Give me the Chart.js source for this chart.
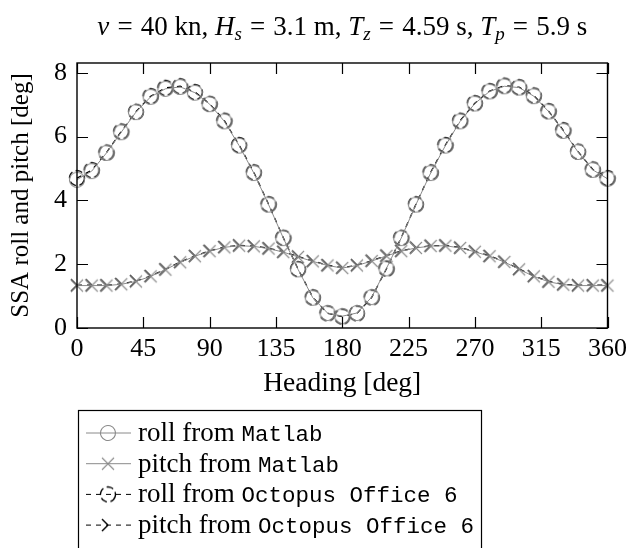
<!DOCTYPE html>
<html>
<head>
<meta charset="utf-8">
<script src="https://cdn.jsdelivr.net/npm/chart.js@4/dist/chart.umd.min.js"></script>
<style>
  html, body { margin: 0; padding: 0; background: #fff; }
  canvas { display: block; }
</style>
</head>
<body>
<canvas id="ssa-chart" width="633" height="548"></canvas>
<script>
// Headings every 10 degrees, 0..360
var headings = [0, 10, 20, 30, 40, 50, 60, 70, 80, 90, 100, 110, 120, 130, 140, 150, 160, 170, 180,
                190, 200, 210, 220, 230, 240, 250, 260, 270, 280, 290, 300, 310, 320, 330, 340, 350, 360];

// SSA roll / pitch [deg]
var rollMatlab = [4.65, 4.92, 5.49, 6.14, 6.77, 7.25, 7.50, 7.56, 7.38, 7.02, 6.48, 5.72, 4.86, 3.87, 2.82, 1.84, 0.95, 0.47, 0.37,
                  0.47, 0.97, 1.87, 2.82, 3.87, 4.86, 5.72, 6.48, 7.04, 7.42, 7.58, 7.54, 7.27, 6.79, 6.18, 5.52, 4.96, 4.68];
var pitchMatlab = [1.33, 1.33, 1.33, 1.37, 1.46, 1.62, 1.83, 2.06, 2.25, 2.41, 2.53, 2.58, 2.56, 2.49, 2.38, 2.23, 2.09, 1.96, 1.88,
                   1.96, 2.10, 2.26, 2.41, 2.51, 2.57, 2.58, 2.51, 2.39, 2.25, 2.07, 1.84, 1.62, 1.45, 1.36, 1.33, 1.33, 1.33];
var rollOctopus = [4.70, 4.95, 5.50, 6.16, 6.78, 7.27, 7.53, 7.58, 7.40, 7.03, 6.50, 5.74, 4.88, 3.88, 2.83, 1.85, 0.96, 0.46, 0.36,
                   0.46, 0.96, 1.86, 2.83, 3.88, 4.88, 5.74, 6.50, 7.05, 7.43, 7.60, 7.55, 7.29, 6.80, 6.20, 5.53, 4.97, 4.70];
var pitchOctopus = [1.34, 1.34, 1.34, 1.38, 1.47, 1.63, 1.84, 2.07, 2.26, 2.42, 2.54, 2.59, 2.57, 2.50, 2.39, 2.24, 2.10, 1.97, 1.89,
                    1.97, 2.11, 2.27, 2.42, 2.52, 2.58, 2.59, 2.52, 2.40, 2.26, 2.08, 1.85, 1.63, 1.46, 1.37, 1.34, 1.34, 1.34];

var xTicks = [0, 45, 90, 135, 180, 225, 270, 315, 360];
var yTicks = [0, 2, 4, 6, 8];

var legendQuantity = ['roll', 'pitch', 'roll', 'pitch'];
var legendSource = ['Matlab', 'Matlab', 'Octopus Office 6', 'Octopus Office 6'];

var SERIF = '"Liberation Serif", "Times New Roman", serif';
var MONO = '"Liberation Mono", "DejaVu Sans Mono", monospace';
var GREY = '#8a8a8a';

function pts(values) {
    return headings.map(function(h, i) { return { x: h, y: values[i] }; });
}

// small canvas sprites so the Octopus marks can be dashed like their lines
function makeMarker(shape, color, dashed) {
    var c = document.createElement('canvas');
    c.width = 20; c.height = 20;
    var g = c.getContext('2d');
    g.strokeStyle = color;
    g.lineWidth = dashed ? 1.4 : 1.1;
    if (shape === 'circle') {
        if (dashed) g.setLineDash([7, 3.5]);
        g.beginPath();
        g.arc(10, 10, 7.5, 0.3, 0.3 + Math.PI * 2);
        g.stroke();
    } else {
        var h = 6;
        if (dashed) g.setLineDash([h * 1.414, 30]);
        g.beginPath(); g.moveTo(10 - h, 10 - h); g.lineTo(10 + h, 10 + h); g.stroke();
        g.beginPath(); g.moveTo(10 - h, 10 + h); g.lineTo(10 + h, 10 - h); g.stroke();
    }
    return c;
}

function series(label, values, color, dash, width, marker) {
    return {
        label: label,
        data: pts(values),
        borderColor: color,
        borderWidth: width,
        borderDash: dash,
        backgroundColor: 'transparent',
        pointStyle: marker,
        pointRadius: 8,
        pointHoverRadius: 8,
        tension: 0,
        fill: false,
        clip: false
    };
}

var datasets = [
    series('roll from Matlab', rollMatlab, GREY, [], 1, makeMarker('circle', GREY, false)),
    series('pitch from Matlab', pitchMatlab, GREY, [], 1, makeMarker('x', GREY, false)),
    series('roll from Octopus Office 6', rollOctopus, '#000', [5, 5], 1.3, makeMarker('circle', '#000', true)),
    series('pitch from Octopus Office 6', pitchOctopus, '#000', [5, 5], 1.3, makeMarker('x', '#000', true))
];

// box around the plot with inward ticks on all four sides
var framePlugin = {
    id: 'frame',
    afterDatasetsDraw: function(chart) {
        var ctx = chart.ctx, a = chart.chartArea;
        var xs = chart.scales.x, ys = chart.scales.y;
        var len = 11;
        ctx.save();
        ctx.strokeStyle = '#000';
        ctx.lineWidth = 1.2;
        ctx.beginPath();
        xTicks.forEach(function(v) {
            var px = Math.round(xs.getPixelForValue(v)) + 0.5;
            ctx.moveTo(px, a.bottom); ctx.lineTo(px, a.bottom - len);
            ctx.moveTo(px, a.top); ctx.lineTo(px, a.top + len);
        });
        yTicks.forEach(function(v) {
            var py = Math.round(ys.getPixelForValue(v)) + 0.5;
            ctx.moveTo(a.left, py); ctx.lineTo(a.left + len, py);
            ctx.moveTo(a.right, py); ctx.lineTo(a.right - len, py);
        });
        ctx.stroke();
        ctx.lineWidth = 1.4;
        ctx.strokeRect(a.left, a.top, a.right - a.left, a.bottom - a.top);
        ctx.restore();
    }
};

// title with italic symbols, subscripts and math spacing around "="
var titleParts = [
    { t: 'v', i: true }, { gap: 0.3 }, { t: '=' }, { gap: 0.3 }, { t: '40 kn, ' },
    { t: 'H', i: true }, { t: 's', i: true, sub: true }, { gap: 0.3 }, { t: '=' }, { gap: 0.3 }, { t: '3.1 m, ' },
    { t: 'T', i: true }, { t: 'z', i: true, sub: true }, { gap: 0.3 }, { t: '=' }, { gap: 0.3 }, { t: '4.59 s, ' },
    { t: 'T', i: true }, { t: 'p', i: true, sub: true }, { gap: 0.3 }, { t: '=' }, { gap: 0.3 }, { t: '5.9 s' }
];
var TITLE_SIZE = 27;
var mathTitlePlugin = {
    id: 'mathTitle',
    afterDraw: function(chart) {
        var ctx = chart.ctx, a = chart.chartArea;
        function font(p) {
            return (p.i ? 'italic ' : '') + (p.sub ? 19 : TITLE_SIZE) + 'px ' + SERIF;
        }
        function width(p) {
            if (p.gap) return p.gap * TITLE_SIZE;
            ctx.font = font(p);
            return ctx.measureText(p.t).width;
        }
        ctx.save();
        ctx.fillStyle = '#000';
        ctx.textBaseline = 'alphabetic';
        var total = titleParts.reduce(function(s, p) { return s + width(p); }, 0);
        var x = (a.left + a.right) / 2 - total / 2;
        var base = 35;
        titleParts.forEach(function(p) {
            var w = width(p);
            if (!p.gap) {
                ctx.font = font(p);
                ctx.fillText(p.t, x, p.sub ? base + 5 : base);
            }
            x += w;
        });
        ctx.restore();
    }
};

// legend box below the axis, mixing serif and typewriter text
var boxLegendPlugin = {
    id: 'boxLegend',
    afterDraw: function(chart) {
        var ctx = chart.ctx;
        var left = 78, top = 410, rowH = 30.7, firstRow = 433;
        var serifFont = '27px ' + SERIF, monoFont = '22.5px ' + MONO;
        ctx.save();
        var widest = 0;
        chart.data.datasets.forEach(function(ds, i) {
            ctx.font = serifFont;
            var w = ctx.measureText(legendQuantity[i] + ' from ').width;
            ctx.font = monoFont;
            w += ctx.measureText(legendSource[i]).width;
            widest = Math.max(widest, w);
        });
        var textX = left + 60;
        ctx.strokeStyle = '#000';
        ctx.lineWidth = 1.2;
        ctx.strokeRect(left + 0.5, top + 0.5, textX + widest + 7 - left, 200);

        chart.data.datasets.forEach(function(ds, i) {
            var y = firstRow + i * rowH;
            ctx.strokeStyle = ds.borderColor;
            ctx.lineWidth = 1;
            ctx.setLineDash(ds.borderDash || []);
            ctx.beginPath();
            ctx.moveTo(left + 8, y); ctx.lineTo(left + 53, y);
            ctx.stroke();
            ctx.setLineDash([]);
            var m = ds.pointStyle;
            ctx.drawImage(m, left + 30 - m.width / 2, y - m.height / 2);

            ctx.fillStyle = '#000';
            ctx.textBaseline = 'alphabetic';
            ctx.font = serifFont;
            var q = legendQuantity[i] + ' from ';
            ctx.fillText(q, textX, y + 8);
            var qw = ctx.measureText(q).width;
            ctx.font = monoFont;
            ctx.fillText(legendSource[i], textX + qw, y + 8);
        });
        ctx.restore();
    }
};

new Chart(document.getElementById('ssa-chart'), {
    type: 'line',
    data: { datasets: datasets },
    options: {
        responsive: false,
        animation: false,
        layout: { padding: { top: 63, right: 20, bottom: 144, left: 0 } },
        plugins: {
            legend: { display: false },
            title: { display: false },
            tooltip: { enabled: false }
        },
        scales: {
            x: {
                type: 'linear',
                min: 0,
                max: 360,
                afterBuildTicks: function(scale) {
                    scale.ticks = xTicks.map(function(v) { return { value: v }; });
                },
                afterFit: function(scale) { scale.height = 76; },
                grid: { display: false, drawTicks: false },
                border: { display: false },
                ticks: {
                    color: '#000',
                    font: { family: SERIF, size: 26 },
                    padding: 6,
                    maxRotation: 0,
                    autoSkip: false
                },
                title: {
                    display: true,
                    text: 'Heading [deg]',
                    color: '#000',
                    font: { family: SERIF, size: 27.5 },
                    padding: { top: 0, bottom: 4 }
                }
            },
            y: {
                min: 0,
                max: 8.31,
                afterBuildTicks: function(scale) {
                    scale.ticks = yTicks.map(function(v) { return { value: v }; });
                },
                afterFit: function(scale) { scale.width = 77; },
                grid: { display: false, drawTicks: false },
                border: { display: false },
                ticks: {
                    color: '#000',
                    font: { family: SERIF, size: 26 },
                    padding: 10
                },
                title: {
                    display: true,
                    text: 'SSA roll and pitch [deg]',
                    color: '#000',
                    font: { family: SERIF, size: 25 },
                    padding: { top: 6, bottom: 0 }
                }
            }
        }
    },
    plugins: [framePlugin, mathTitlePlugin, boxLegendPlugin]
});
</script>
</body>
</html>
